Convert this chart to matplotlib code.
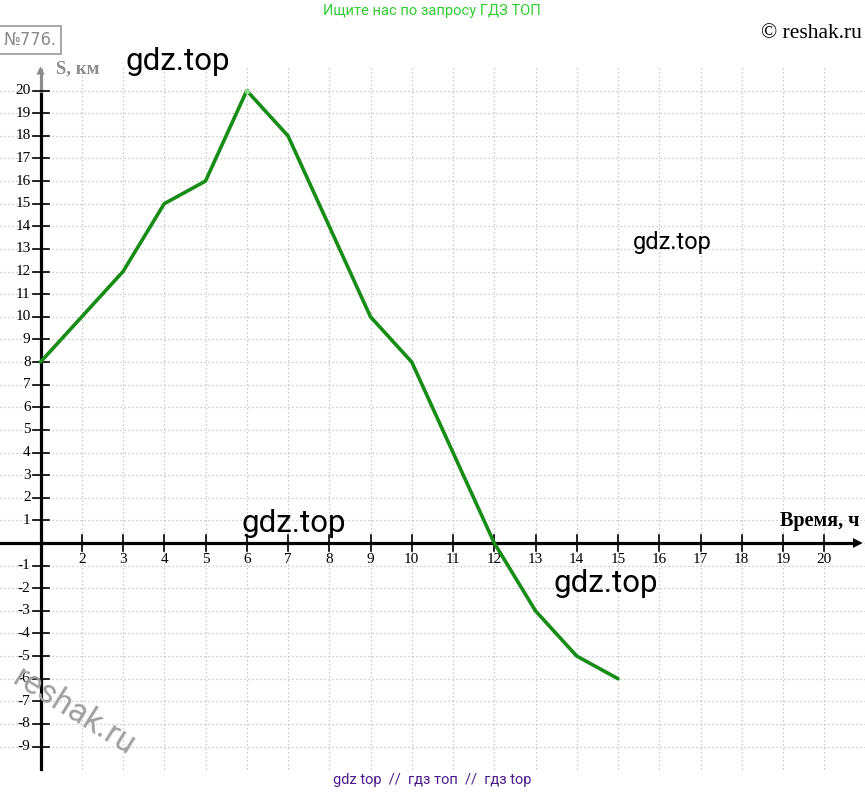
import matplotlib
matplotlib.use("Agg")
import matplotlib.pyplot as plt

# distance S (km) over time (h)
hours = [1, 2, 3, 4, 5, 6, 7, 8, 9, 10, 11, 12, 13, 14, 15]
dist_km = [8, 10, 12, 15, 16, 20, 18, 14, 10, 8, 4, 0, -3, -5, -6]

x_ticks = list(range(2, 21))
y_ticks = [v for v in range(-9, 21) if v != 0]

W, H = 865, 795
fig = plt.figure(figsize=(W / 100, H / 100), dpi=100)
ax = fig.add_axes([0, 0, 1, 1])
ax.set_xlim(1 - 40.5 / 41.25, 1 + 824.5 / 41.25)
ax.set_ylim(-252 / 22.62, 543 / 22.62)
ax.axis("off")

serif = "Liberation Serif"
grid_kw = dict(color="#bcbcbc", lw=0.9, ls=(0, (1, 2.2)), zorder=1)

# dotted grid
for v in range(-9, 21):
    ax.plot([ax.get_xlim()[0], ax.get_xlim()[1]], [v, v], **grid_kw)
for v in range(2, 22):
    ax.plot([v, v], [-10, 21.1], **grid_kw)

# axes with arrows
ax.plot([ax.get_xlim()[0], 20.8], [0, 0], color="black", lw=2.3, zorder=3)
ax.annotate("", xy=(21.0, 0), xytext=(20.6, 0),
            arrowprops=dict(arrowstyle="-|>,head_length=0.7,head_width=0.35",
                            color="black", lw=0), zorder=3)
ax.plot([1, 1], [-10, 20], color="black", lw=2.3, zorder=3)
ax.plot([1, 1], [20, 20.9], color="#8c8c8c", lw=2.3, zorder=3)
ax.annotate("", xy=(1, 21.2), xytext=(1, 20.7),
            arrowprops=dict(arrowstyle="-|>,head_length=0.6,head_width=0.3",
                            color="#8c8c8c", lw=0), zorder=3)

# ticks and labels
for v in x_ticks:
    ax.plot([v, v], [-0.35, 0.35], color="black", lw=1.2, zorder=3)
    ax.text(v, -0.45, str(v), ha="center", va="top", family=serif,
            fontsize=11, zorder=4)
for v in y_ticks:
    ax.plot([0.82, 1.2], [v, v], color="black", lw=1.2, zorder=3)
    ax.text(0.76, v, str(v), ha="right", va="center", family=serif,
            fontsize=11, zorder=4)

ax.text(20.85, 0.55, "Время, ч", ha="right", va="bottom", family=serif,
        fontsize=14.5, fontweight="bold", zorder=4)
ax.text(1.38, 20.95, "S, км", ha="left", va="center", family=serif,
        fontsize=13.5, fontweight="bold", color="#8c8c8c", zorder=4)

# the graph
ax.plot(hours, dist_km, color="#178c17", lw=2.6, solid_joinstyle="round",
        solid_capstyle="round", zorder=5)
ax.plot(hours[5], dist_km[5], "o", color="#90dd90", ms=4, mec="none", zorder=6)

# page decorations
def fx(px):
    return px / W

def fy(py):
    return 1 - py / H

fig.text(fx(432), fy(11), "Ищите нас по запросу ГДЗ ТОП", ha="center",
         va="center", family="Roboto", fontsize=10.6, color="#33cc33")
fig.text(fx(862), fy(33), "© reshak.ru", ha="right", va="center",
         family=serif, fontsize=15.5)
fig.text(fx(30), fy(40), "№776.", ha="center", va="center",
         family="DejaVu Sans", fontstretch="condensed", fontsize=13,
         color="#8a8a8a",
         bbox=dict(boxstyle="square,pad=0.25", fc="white", ec="#9a9a9a",
                   lw=1.2))

for (px, py, fs) in [(178, 62, 22.5), (672, 243, 17), (294, 524, 22.5),
                     (606, 584, 22.5)]:
    fig.text(fx(px), fy(py), "gdz.top", ha="center", va="center",
             family="Roboto", fontsize=fs, color="black", zorder=10)

fig.text(fx(74), fy(712), "reshak.ru", ha="center", va="center",
         family="Roboto", fontsize=24, color="#a0a0a0", rotation=-32,
         zorder=10)
fig.text(fx(432), fy(780), "gdz top  //  гдз топ  //  гдз top",
         ha="center", va="center", family="Roboto", fontsize=10.5,
         color="#4b1c8c")

fig.savefig("out.png", dpi=100)
